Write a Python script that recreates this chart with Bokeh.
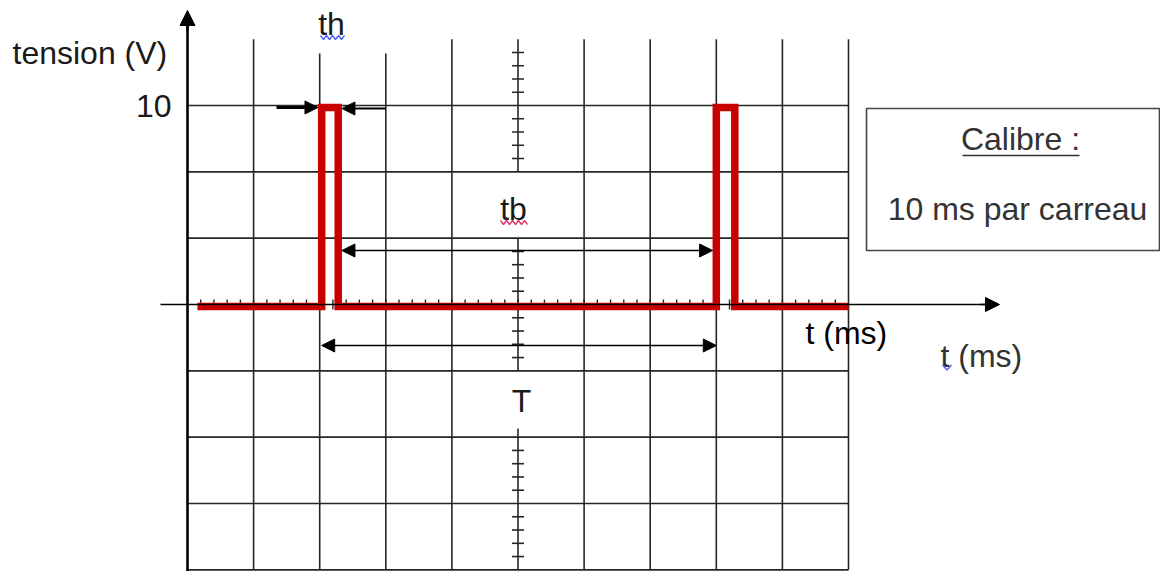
import numpy as np
from bokeh.plotting import figure
from bokeh.models import Range1d, Arrow, NormalHead
from bokeh.core.properties import value
from bokeh.embed import file_html
from bokeh.resources import INLINE

# ---------------- data ----------------
time_ms = [1.5, 20.3, 20.3, 22.8, 22.8, 80.0, 80.0, 82.8, 82.8, 100.0]
tension_V = [-0.1, -0.1, 9.9, 9.9, -0.1, -0.1, 9.9, 9.9, -0.1, -0.1]
rise_ms = [20.3, 80.0]          # rising edges of the pulses
fall_ms = [22.8, 82.8]          # falling edges of the pulses
high_V = 9.9
div_ms = 10.0                   # 10 ms per square
div_V = 10.0 / 3.0              # 10 V = 3 squares
n_div_x = 10
n_div_y = 4                     # squares above and below the axis
n_sub = 5                       # graduations per square
y_tick_value = [10]
y_tick_label = ["10"]
y_title = "tension (V)"
x_title = "t (ms)"
box_title = "Calibre :"
box_text = "10 ms par carreau"

# ---------------- geometry ----------------
W, H = 1160, 571
PX_MS = 6.61
PX_V = 19.9
OX, OY = 187, 304          # origin in reference pixels
M = 0                      # offset of the canvas in the reference


def fx(px):
    return (px - OX) / PX_MS


def fy(py):
    return (OY - py) / PX_V


p = figure(width=W, height=H,
           x_range=Range1d(fx(M), fx(M + W)),
           y_range=Range1d(fy(M + H), fy(M)),
           output_backend="svg", toolbar_location=None,
           x_axis_location=None, y_axis_location=None,
           min_border=0, min_border_left=0, min_border_right=0,
           min_border_top=0, min_border_bottom=0)
p.outline_line_color = None
p.grid.visible = False
p.background_fill_color = "white"
p.border_fill_color = "white"

GRID = "#262626"
FONT = value("Liberation Sans")
FS = value("32px")

x_max = n_div_x * div_ms
y_top = n_div_y * div_V
y_bot = -n_div_y * div_V

# horizontal grid lines
hy = [k * div_V for k in range(-n_div_y, n_div_y) if k != 0]
p.segment(x0=[0] * len(hy), x1=[x_max] * len(hy), y0=hy, y1=hy,
          line_color=GRID, line_width=1.6)

# vertical grid lines (the centre one is the graduated line)
vx, vy1 = [], []
for i in range(1, n_div_x + 1):
    x = i * div_ms
    if i == n_div_x // 2:
        continue
    vx.append(x)
    vy1.append(fy(53) if i in (2, 3) else y_top)
p.segment(x0=vx, x1=vx, y0=[y_bot] * len(vx), y1=vy1,
          line_color=GRID, line_width=1.6)

# centre graduated line, interrupted by labels tb and T
xc = n_div_x // 2 * div_ms
segs = [(2 * div_V, y_top), (-div_V, div_V), (y_bot, fy(428))]
p.segment(x0=[xc] * 3, x1=[xc] * 3, y0=[s[0] for s in segs],
          y1=[s[1] for s in segs], line_color=GRID, line_width=1.6)
ty = []
for j in range(-n_div_y * n_sub, n_div_y * n_sub + 1):
    if j % n_sub == 0:
        continue
    y = j * div_V / n_sub
    if any(a < y < b for a, b in segs):
        ty.append(y)
hw = 6 / PX_MS
p.segment(x0=[xc - hw] * len(ty), x1=[xc + hw] * len(ty), y0=ty, y1=ty,
          line_color=GRID, line_width=1.6)

# graduations on the time axis
tx = [j * div_ms / n_sub for j in range(1, n_div_x * n_sub)]
th_ = 5 / PX_V
p.segment(x0=tx, x1=tx, y0=[-th_] * len(tx), y1=[th_] * len(tx),
          line_color=GRID, line_width=1.4)

# signal
p.line(time_ms, tension_V, line_width=7.5, line_color="#C80000",
       line_join="miter")

# axes
p.segment(x0=[fx(160)], x1=[fx(990)], y0=[0], y1=[0],
          line_color="black", line_width=1.6)
p.add_layout(Arrow(x_start=fx(980), y_start=0, x_end=fx(999), y_end=0,
                   line_width=1.6, end=NormalHead(size=14, fill_color="black",
                                                  line_color="black")))
p.segment(x0=[0], x1=[0], y0=[fy(M + H + 10)], y1=[fy(22)],
          line_color="black", line_width=2.6)
p.add_layout(Arrow(x_start=0, y_start=fy(30), x_end=0, y_end=fy(10),
                   line_width=2.6, end=NormalHead(size=15, fill_color="black",
                                                  line_color="black")))

# arrows th, tb, T
half_red = 3.7 / PX_MS
p.add_layout(Arrow(x_start=fx(276), y_start=high_V, x_end=rise_ms[0] - half_red,
                   y_end=high_V, line_width=3,
                   end=NormalHead(size=13, fill_color="black", line_color="black")))
p.add_layout(Arrow(x_start=3 * div_ms, y_start=fy(108), x_end=fall_ms[0] + half_red,
                   y_end=fy(108), line_width=2,
                   end=NormalHead(size=13, fill_color="black", line_color="black")))
p.add_layout(Arrow(x_start=fall_ms[0] + half_red, y_start=fy(250),
                   x_end=rise_ms[1] - half_red, y_end=fy(250), line_width=1.6,
                   start=NormalHead(size=13, fill_color="black", line_color="black"),
                   end=NormalHead(size=13, fill_color="black", line_color="black")))
p.add_layout(Arrow(x_start=rise_ms[0], y_start=fy(345),
                   x_end=rise_ms[1], y_end=fy(345), line_width=1.6,
                   start=NormalHead(size=13, fill_color="black", line_color="black"),
                   end=NormalHead(size=13, fill_color="black", line_color="black")))

# texts
p.text(x=[fx(12)], y=[fy(52)], text=[y_title], text_font=FONT, text_font_size=FS,
       text_align="left", text_baseline="middle", text_color="#1a1a1a")
p.text(x=[fx(171)], y=y_tick_value, text=y_tick_label, text_font=FONT,
       text_font_size=FS, text_align="right", text_baseline="middle",
       text_color="#1a1a1a")
p.text(x=[fx(331), fx(513), fx(521)], y=[fy(23), fy(208), fy(400)],
       text=["th", "tb", "T"], text_font=FONT, text_font_size=FS,
       text_align="center", text_baseline="middle", text_color="#1a1a1a")
p.text(x=[fx(805)], y=[fy(332)], text=[x_title], text_font=FONT,
       text_font_size=FS, text_align="left", text_baseline="middle",
       text_color="black")
p.text(x=[fx(940)], y=[fy(355)], text=[x_title], text_font=FONT,
       text_font_size=FS, text_align="left", text_baseline="middle",
       text_color="#333333")


# spell-check squiggles
def squiggle(x0px, x1px, ypx, amp=2.0, step=3.0):
    xs = np.arange(x0px, x1px + 0.1, step)
    ys = ypx + amp * np.where(np.arange(len(xs)) % 2 == 0, -1, 1)
    return [fx(v) for v in xs], [fy(v) for v in ys]


sx, sy = squiggle(320, 346, 37)
p.line(sx, sy, line_color="#4a5cf0", line_width=1.3)
sx, sy = squiggle(500, 528, 222)
p.line(sx, sy, line_color="#e0306a", line_width=1.3)
sx, sy = squiggle(942, 951, 367, amp=2.5, step=4.5)
p.line(sx, sy, line_color="#4a5cf0", line_width=1.3)

# calibre box
p.quad(left=[fx(866)], right=[fx(M + W - 1)], top=[fy(108)], bottom=[fy(250)],
       fill_color=None, line_color="#444444", line_width=1.6)
p.text(x=[fx(1020)], y=[fy(138)], text=[box_title], text_font=FONT,
       text_font_size=FS, text_align="center", text_baseline="middle",
       text_color="#333333")
p.segment(x0=[fx(962)], x1=[fx(1079)], y0=[fy(155)], y1=[fy(155)],
          line_color="#333333", line_width=1.6)
p.text(x=[fx(1017)], y=[fy(208)], text=[box_text], text_font=FONT,
       text_font_size=FS, text_align="center", text_baseline="middle",
       text_color="#333333")

open("out.html", "w").write(file_html(p, INLINE))
